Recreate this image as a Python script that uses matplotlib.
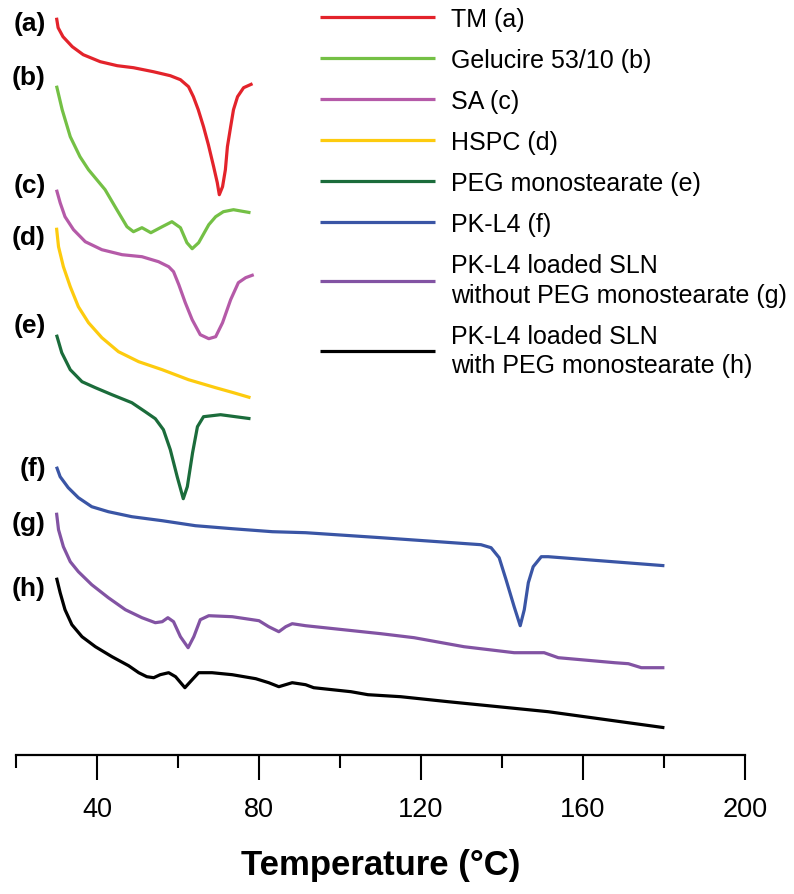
import matplotlib
matplotlib.use("Agg")
import matplotlib.pyplot as plt

plt.rcParams["font.family"] = ["Liberation Sans", "DejaVu Sans"]

# DSC thermograms, signal (arbitrary heat-flow units, curves offset)
tm_temp = [30, 30.4, 31.6, 33.9, 36.6, 40.8, 45.0, 49.0, 53.9, 58.1, 60.6, 62.6,
           63.8, 65.0, 66.3, 67.5, 68.8, 69.7, 70.2, 71.0, 71.7, 72.2, 73.0, 73.7,
           74.7, 76.2, 78.4]
tm_flow = [73.7, 72.7, 71.8, 70.8, 70.0, 69.3, 68.9, 68.7, 68.3, 67.9, 67.5, 66.8,
           65.8, 64.5, 62.8, 61.0, 58.8, 57.2, 56.0, 56.8, 58.5, 60.8, 62.8, 64.5,
           65.8, 66.7, 67.1]

gel_temp = [30, 31.4, 33.4, 35.8, 37.9, 42.0, 44.9, 47.4, 49.0, 51.1, 53.3, 56.1,
            58.5, 60.6, 62.2, 63.5, 65.1, 67.6, 69.3, 71.2, 73.7, 77.9]
gel_flow = [66.9, 64.5, 61.8, 59.8, 58.5, 56.5, 54.5, 52.8, 52.3, 52.7, 52.2, 52.8,
            53.3, 52.7, 51.2, 50.6, 51.2, 53.0, 53.8, 54.3, 54.5, 54.2]

sa_temp = [30, 30.9, 32.1, 34.2, 37.1, 41.2, 46.2, 51.1, 55.2, 57.7, 58.9, 60.2,
           61.8, 63.5, 65.5, 67.6, 69.3, 71.0, 73.0, 74.9, 76.7, 78.7]
sa_flow = [56.5, 55.2, 53.8, 52.5, 51.3, 50.5, 50.0, 49.8, 49.3, 48.8, 48.3, 47.0,
           45.2, 43.5, 42.0, 41.6, 41.8, 43.2, 45.5, 47.2, 47.7, 48.0]

hspc_temp = [30, 30.5, 31.7, 33.4, 35.4, 37.9, 41.2, 45.3, 50.3, 56.1, 62.6, 69.3,
             73.7, 77.9]
hspc_flow = [52.7, 50.8, 48.8, 46.8, 44.8, 43.2, 41.7, 40.3, 39.3, 38.5, 37.5, 36.7,
             36.2, 35.7]

peg_temp = [30, 31.3, 33.4, 36.3, 39.6, 43.7, 48.6, 51.9, 54.4, 56.4, 58.1, 59.8,
            61.3, 62.3, 63.6, 64.8, 66.3, 70.5, 77.9]
peg_flow = [42.0, 40.2, 38.5, 37.3, 36.7, 36.0, 35.2, 34.3, 33.6, 32.5, 30.5, 27.8,
            25.6, 26.8, 30.2, 32.8, 33.8, 34.0, 33.6]

pk_temp = [30, 30.9, 32.9, 35.4, 38.7, 42.8, 48.6, 56.1, 64.3, 73.4, 83.3, 91.5,
           110.1, 134.8, 137.3, 139.3, 141.0, 143.0, 144.5, 145.5, 146.5, 147.7,
           149.7, 151.4, 180.1]
pk_flow = [28.8, 27.8, 26.7, 25.7, 24.8, 24.3, 23.8, 23.4, 22.9, 22.6, 22.3, 22.2,
           21.7, 21.0, 20.7, 19.7, 17.5, 14.8, 12.9, 14.5, 17.2, 18.8, 19.8, 19.8,
           18.9]

sln_temp = [30, 30.5, 31.7, 33.4, 35.4, 38.7, 42.8, 47.0, 51.1, 54.4, 56.1, 57.5,
            58.9, 60.6, 62.5, 63.9, 65.5, 67.6, 73.4, 80.0, 82.4, 84.9, 86.6, 88.2,
            91.5, 110.1, 118.3, 130.6, 143.0, 150.4, 153.9, 167.8, 171.2, 174.4,
            180.1]
sln_flow = [24.2, 22.5, 20.8, 19.3, 18.3, 17.0, 15.7, 14.5, 13.7, 13.2, 13.3, 13.7,
            13.3, 11.8, 10.7, 11.8, 13.5, 13.9, 13.8, 13.4, 12.8, 12.3, 12.8, 13.1,
            12.9, 12.1, 11.7, 10.8, 10.2, 10.2, 9.7, 9.2, 9.1, 8.7, 8.7]

peg_sln_temp = [30, 30.9, 32.1, 33.8, 36.3, 39.6, 43.7, 47.8, 50.3, 52.3, 54.0,
                55.6, 57.7, 59.4, 61.7, 63.5, 65.1, 68.4, 73.4, 79.2, 82.4, 84.9,
                88.2, 91.5, 93.5, 102.7, 106.9, 115.0, 126.7, 151.4, 180.1]
peg_sln_flow = [17.7, 16.2, 14.5, 13.0, 11.8, 10.8, 9.8, 8.9, 8.2, 7.8, 7.7, 8.0,
                8.2, 7.8, 6.7, 7.5, 8.2, 8.2, 8.0, 7.6, 7.2, 6.8, 7.2, 7.0, 6.7,
                6.3, 6.0, 5.8, 5.3, 4.3, 2.7]

series = [
    ("TM (a)", tm_temp, tm_flow, "#e3232b"),
    ("Gelucire 53/10 (b)", gel_temp, gel_flow, "#74c045"),
    ("SA (c)", sa_temp, sa_flow, "#b55aa8"),
    ("HSPC (d)", hspc_temp, hspc_flow, "#fdcb0e"),
    ("PEG monostearate (e)", peg_temp, peg_flow, "#1b6c3b"),
    ("PK-L4 (f)", pk_temp, pk_flow, "#3a55a5"),
    ("PK-L4 loaded SLN\nwithout PEG monostearate (g)", sln_temp, sln_flow, "#8253a3"),
    ("PK-L4 loaded SLN\nwith PEG monostearate (h)", peg_sln_temp, peg_sln_flow, "#000000"),
]

panel_tags = ["(a)", "(b)", "(c)", "(d)", "(e)", "(f)", "(g)", "(h)"]
tag_levels = [73.2, 67.8, 57.0, 51.8, 43.0, 28.7, 23.2, 16.7]

fig = plt.figure(figsize=(7.94, 8.95), dpi=100)
ax = fig.add_axes([16 / 794, (895 - 755.7) / 895, (745 - 16) / 794, 755.7 / 895])

for label, temp, flow, color in series:
    ax.plot(temp, flow, color=color, lw=2.3, label=label,
            solid_joinstyle="round", solid_capstyle="butt")

for tag, level in zip(panel_tags, tag_levels):
    ax.text(27.4, level, tag, ha="right", va="center", fontsize=19, fontweight="bold")

ax.set_xlim(20, 200)
ax.set_ylim(0, 75.57)
for side in ["left", "right", "top"]:
    ax.spines[side].set_visible(False)
ax.spines["bottom"].set_linewidth(1.6)
ax.set_yticks([])

ax.set_xticks([40, 80, 120, 160, 200])
ax.set_xticks([20, 60, 100, 140, 180], minor=True)
ax.tick_params(axis="x", which="major", direction="out", length=18, width=1.5,
               labelsize=19.5, pad=12)
ax.tick_params(axis="x", which="minor", direction="out", length=9, width=1.5)

ax.set_xlabel("Temperature (°C)", fontsize=25, fontweight="bold")
ax.xaxis.set_label_coords(0.5, -(866 - 755.7) / 755.7)
ax.xaxis.label.set_va("center")

leg = ax.legend(loc="upper left", bbox_to_anchor=(320 / 794, 1 - 8 / 895),
                bbox_transform=fig.transFigure, frameon=False, fontsize=18,
                handlelength=4.6, handletextpad=0.65, labelspacing=0.68,
                borderpad=0, borderaxespad=0)
for txt in leg.get_texts():
    txt.set_linespacing(1.3)

fig.savefig("out.png", dpi=100)
